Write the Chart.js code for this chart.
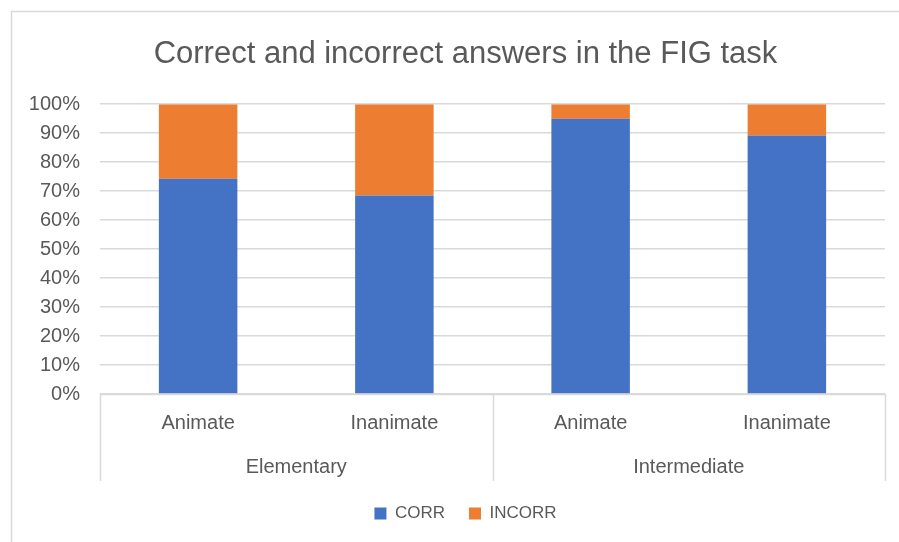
<!DOCTYPE html>
<html>
<head>
<meta charset="utf-8">
<script src="https://cdn.jsdelivr.net/npm/chart.js@4/dist/chart.umd.min.js"></script>
<style>
  html, body { margin: 0; padding: 0; background: #fff; }
  canvas { display: block; }
</style>
</head>
<body>
<canvas id="chart" width="899" height="542"></canvas>
<script>
// chart data
const groups = ['Elementary', 'Intermediate'];
const subLabels = ['Animate', 'Inanimate', 'Animate', 'Inanimate'];
const corrValues = [74.3, 68.5, 95.0, 89.2];
const incorrValues = corrValues.map(v => +(100 - v).toFixed(1));
const yTicks = [0, 10, 20, 30, 40, 50, 60, 70, 80, 90, 100];

const textColor = '#595959';
const lineColor = '#d9d9d9';
const frameInset = 46; // title + legend are centred inside the Excel chart frame

// chart frame + group boxes under the x axis (Excel style multi-level axis)
const groupLines = {
  id: 'groupLines',
  afterLayout(chart) {
    chart.titleBlock.left = frameInset;
    chart.legend.left = frameInset;
  },
  beforeDraw(chart) {
    const ctx = chart.ctx;
    ctx.save();
    ctx.strokeStyle = lineColor;
    ctx.lineWidth = 1.5;
    // frame is cut off on the right and bottom in the screenshot
    ctx.strokeRect(11.5, 11.5, chart.width + 20, chart.height + 20);
    ctx.restore();
  },
  afterDraw(chart) {
    const ctx = chart.ctx;
    const x = chart.scales.x;
    const x2 = chart.scales.x2;
    const top = chart.chartArea.bottom;
    const bottom = x2.bottom;
    const per = subLabels.length / groups.length;
    const xs = [chart.chartArea.left, chart.chartArea.right];
    for (let g = 1; g < groups.length; g++) {
      xs.push((x.getPixelForValue(g * per - 1) + x.getPixelForValue(g * per)) / 2);
    }
    ctx.save();
    ctx.strokeStyle = lineColor;
    ctx.lineWidth = 1.5;
    ctx.beginPath();
    xs.forEach(px => {
      const p = Math.round(px) + 0.5;
      ctx.moveTo(p, top);
      ctx.lineTo(p, bottom);
    });
    ctx.moveTo(chart.chartArea.left, Math.round(top) + 0.5);
    ctx.lineTo(chart.chartArea.right, Math.round(top) + 0.5);
    ctx.stroke();
    ctx.restore();
  }
};

new Chart(document.getElementById('chart'), {
  type: 'bar',
  data: {
    labels: subLabels,
    datasets: [
      { label: 'CORR', data: corrValues, backgroundColor: '#4472C4', barPercentage: 0.4, categoryPercentage: 1 },
      { label: 'INCORR', data: incorrValues, backgroundColor: '#ED7D31', barPercentage: 0.4, categoryPercentage: 1 }
    ]
  },
  plugins: [groupLines],
  options: {
    responsive: false,
    animation: false,
    layout: { padding: { left: 0, right: 14, top: 0, bottom: 10 } },
    scales: {
      x: {
        stacked: true,
        grid: { display: false, drawTicks: false },
        border: { display: false },
        ticks: { color: textColor, font: { family: 'Liberation Sans', size: 20 }, padding: 17, maxRotation: 0 },
        afterFit(s) { s.height = 51; }
      },
      x2: {
        type: 'category',
        labels: groups,
        position: 'bottom',
        offset: true,
        grid: { display: false, drawTicks: false },
        border: { display: false },
        ticks: { color: textColor, font: { family: 'Liberation Sans', size: 20 }, padding: 10, maxRotation: 0 },
        afterFit(s) { s.height = 36; }
      },
      y: {
        stacked: true,
        min: 0,
        max: 100,
        grid: { color: lineColor, lineWidth: 1.5, drawTicks: false },
        border: { display: false },
        afterBuildTicks(s) { s.ticks = yTicks.map(v => ({ value: v })); },
        ticks: {
          color: textColor,
          font: { family: 'Liberation Sans', size: 20 },
          padding: 20,
          callback: v => v + '%'
        },
        afterFit(s) { s.width = 100; }
      }
    },
    plugins: {
      title: {
        display: true,
        text: 'Correct and incorrect answers in the FIG task',
        color: textColor,
        font: { family: 'Liberation Sans', size: 31, weight: 'normal' },
        padding: { top: 36, bottom: 31 }
      },
      legend: {
        position: 'bottom',
        labels: {
          color: textColor,
          font: { family: 'Liberation Sans', size: 17 },
          boxWidth: 12,
          boxHeight: 12,
          padding: 24
        }
      },
      tooltip: { enabled: false }
    }
  }
});
</script>
</body>
</html>
